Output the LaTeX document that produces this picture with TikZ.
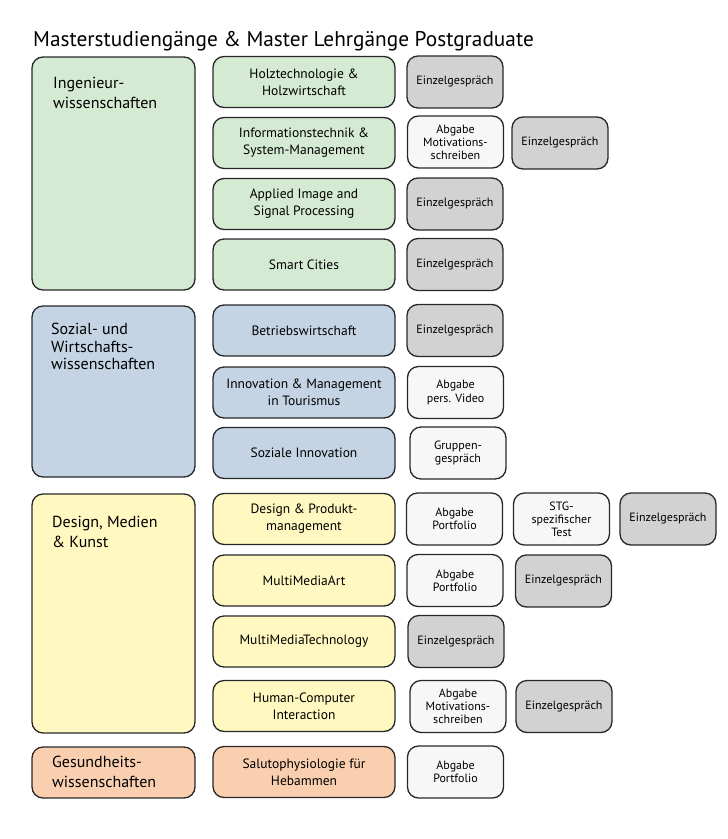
\documentclass[tikz,border=0pt]{standalone}
\usepackage{fontspec}
\setmainfont{PT Sans}
\definecolor{cgreen}{RGB}{213,234,210}
\definecolor{cblue}{RGB}{196,212,228}
\definecolor{cyellow}{RGB}{255,248,192}
\definecolor{corange}{RGB}{249,207,176}
\definecolor{cgray}{RGB}{210,210,210}
\definecolor{cwhite}{RGB}{247,247,247}
\definecolor{cline}{RGB}{40,40,40}
\tikzset{
  box/.style={draw=cline, line width=1.3pt, rounded corners=11pt, inner sep=2pt, align=center, text=black},
  cat/.style={box, minimum width=163pt},
  cattext/.style={anchor=north west, align=left, inner sep=0pt, font=\fontsize{16}{20}\selectfont},
  prog/.style={box, minimum width=182pt, minimum height=51pt, font=\fontsize{13.5}{17}\selectfont},
  small/.style={box, minimum width=96pt, minimum height=52pt, font=\fontsize{12}{13.2}\selectfont},
  gbox/.style={small, fill=cgray},
  wbox/.style={small, fill=cwhite},
}
\begin{document}
\begin{tikzpicture}[x=1pt,y=-1pt]
\useasboundingbox (0,0) rectangle (728,839);
\node[anchor=base west, inner sep=0pt, font=\fontsize{21.3}{24}\selectfont] (title) at (33,46) {Masterstudiengänge \& Master Lehrgänge Postgraduate};
% categories
\node[cat, fill=cgreen, minimum height=233pt] (c1) at (113.5,173.5) {};
\node[cattext] (c1t) at (53,77) {Ingenieur-\\wissenschaften};
\node[cat, fill=cblue, minimum height=171pt] (c2) at (113.5,391.5) {};
\node[cattext, font=\fontsize{16}{17.5}\selectfont] (c2t) at (51,323) {Sozial- und\\Wirtschafts-\\wissenschaften};
\node[cat, fill=cyellow, minimum height=239pt] (c3) at (113.5,613.5) {};
\node[cattext] (c3t) at (52,516) {Design, Medien\\\& Kunst};
\node[cat, fill=corange, minimum height=51pt] (c4) at (113.5,772.5) {};
\node[cattext] (c4t) at (52,756) {Gesundheits-\\wissenschaften};
% programmes
\node[prog, fill=cgreen] (p1) at (304,82) {Holztechnologie \&\\Holzwirtschaft};
\node[prog, fill=cgreen] (p2) at (304,143) {Informationstechnik \&\\System-Management};
\node[prog, fill=cgreen] (p3) at (304,204) {Applied Image and\\Signal Processing};
\node[prog, fill=cgreen] (p4) at (304,264.5) {Smart Cities};
\node[prog, fill=cblue] (p5) at (304,330.5) {Betriebswirtschaft};
\node[prog, fill=cblue] (p6) at (304,392.5) {Innovation \& Management\\in Tourismus};
\node[prog, fill=cblue] (p7) at (304,453) {Soziale Innovation};
\node[prog, fill=cyellow] (p8) at (304,519) {Design \& Produkt-\\management};
\node[prog, fill=cyellow] (p9) at (304,580.5) {MultiMediaArt};
\node[prog, fill=cyellow] (p10) at (304,641.5) {MultiMediaTechnology};
\node[prog, fill=cyellow] (p11) at (304,706) {Human-Computer\\Interaction};
\node[prog, fill=corange] (p12) at (304,772) {Salutophysiologie für\\Hebammen};
% requirements
\node[gbox] (r1a) at (455,82) {Einzelgespräch};
\node[wbox] (r2a) at (455.5,142) {Abgabe\\Motivations-\\schreiben};
\node[gbox] (r2b) at (560,143) {Einzelgespräch};
\node[gbox] (r3a) at (455,204) {Einzelgespräch};
\node[gbox] (r4a) at (455,264.5) {Einzelgespräch};
\node[gbox] (r5a) at (455,330.5) {Einzelgespräch};
\node[wbox] (r6a) at (455.5,392.5) {Abgabe\\pers. Video};
\node[wbox] (r7a) at (458,453) {Gruppen-\\gespräch};
\node[wbox] (r8a) at (454.5,519) {Abgabe\\Portfolio};
\node[wbox] (r8b) at (561.5,519) {STG-\\spezifischer\\Test};
\node[gbox] (r8c) at (668,519) {Einzelgespräch};
\node[wbox] (r9a) at (455,580.5) {Abgabe\\Portfolio};
\node[gbox] (r9b) at (563.5,581) {Einzelgespräch};
\node[gbox] (r10a) at (456,641.5) {Einzelgespräch};
\node[wbox] (r11a) at (458,706.5) {Abgabe\\Motivations-\\schreiben};
\node[gbox] (r11b) at (564,706.5) {Einzelgespräch};
\node[wbox] (r12a) at (455.5,772) {Abgabe\\Portfolio};
\end{tikzpicture}
\end{document}
